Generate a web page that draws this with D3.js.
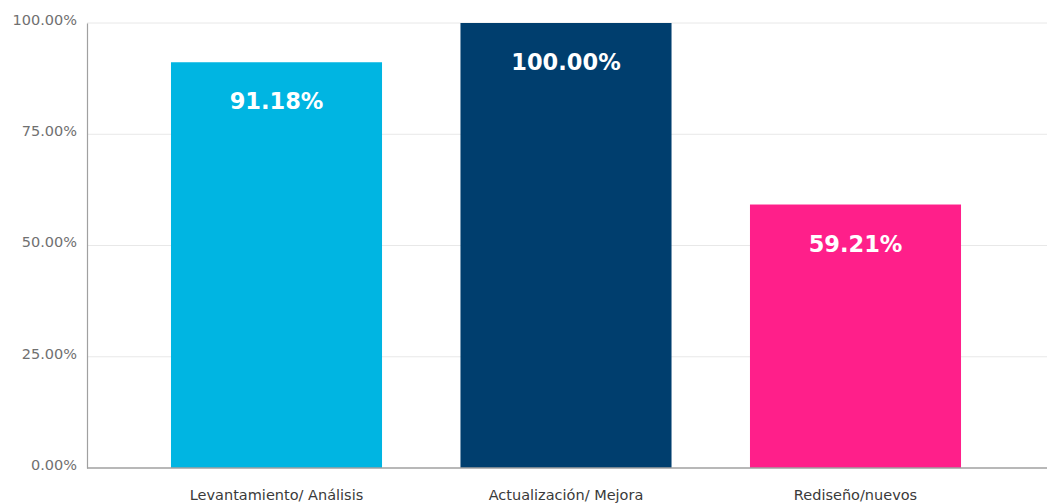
<!DOCTYPE html>
<html>
<head>
<meta charset="utf-8">
<script src="https://cdn.jsdelivr.net/npm/d3@7"></script>
<style>
  html, body { margin: 0; padding: 0; background: #ffffff; }
  svg { display: block; }
</style>
</head>
<body>
<svg id="chart" width="1047" height="504"></svg>
<script>
// Share of projects per work type (percent)
const categories = ["Levantamiento/ Análisis", "Actualización/ Mejora", "Rediseño/nuevos"];
const values = [91.18, 100.00, 59.21];
const barColors = ["#00b5e2", "#003e6e", "#ff1f8a"];
const tickValues = [0, 25, 50, 75, 100];

const width = 1047, height = 504;
const margin = { top: 23, right: 0, bottom: 36, left: 87 };

const svg = d3.select("#chart");

const x = d3.scaleBand()
  .domain(categories)
  .range([margin.left - 2, width])
  .paddingInner(0.271)
  .paddingOuter(0.297);

const y = d3.scaleLinear()
  .domain([0, 100])
  .range([height - margin.bottom, margin.top]);

const fmt = v => v.toFixed(2) + "%";

// Horizontal gridlines
svg.append("g")
  .selectAll("line")
  .data(tickValues.filter(d => d > 0))
  .join("line")
  .attr("x1", margin.left)
  .attr("x2", width)
  .attr("y1", d => y(d))
  .attr("y2", d => y(d))
  .attr("stroke", "#e8e8e8")
  .attr("stroke-width", 1);

// Y axis with percentage ticks
const yAxis = svg.append("g")
  .attr("transform", `translate(${margin.left},0)`)
  .call(d3.axisLeft(y).tickValues(tickValues).tickFormat(fmt).tickSize(0).tickPadding(10));
yAxis.select(".domain").attr("stroke", "#a0a0a0").attr("stroke-width", 1.2);
yAxis.selectAll("text")
  .attr("font-family", "'DejaVu Sans', sans-serif")
  .attr("font-size", 14.5)
  .attr("fill", "#707070")
  .attr("dy", "0.1em");

// Bars
svg.append("g")
  .selectAll("rect")
  .data(values)
  .join("rect")
  .attr("x", (d, i) => x(categories[i]))
  .attr("width", x.bandwidth())
  .attr("y", d => y(d))
  .attr("height", d => y(0) - y(d))
  .attr("fill", (d, i) => barColors[i]);

// Baseline
svg.append("line")
  .attr("x1", margin.left)
  .attr("x2", width)
  .attr("y1", y(0))
  .attr("y2", y(0))
  .attr("stroke", "#a0a0a0")
  .attr("stroke-width", 1.5);

// Value labels inside bars
svg.append("g")
  .selectAll("text")
  .data(values)
  .join("text")
  .attr("x", (d, i) => x(categories[i]) + x.bandwidth() / 2)
  .attr("y", d => y(d) + 47)
  .attr("text-anchor", "middle")
  .attr("font-family", "'DejaVu Sans', sans-serif")
  .attr("font-weight", 600)
  .attr("font-size", 22.5)
  .attr("fill", "#ffffff")
  .text(d => fmt(d));

// Category labels
svg.append("g")
  .selectAll("text")
  .data(categories)
  .join("text")
  .attr("x", d => x(d) + x.bandwidth() / 2)
  .attr("y", height - 4)
  .attr("text-anchor", "middle")
  .attr("font-family", "'DejaVu Sans', sans-serif")
  .attr("font-size", 14.5)
  .attr("fill", "#3a3a3a")
  .text(d => d);
</script>
</body>
</html>
